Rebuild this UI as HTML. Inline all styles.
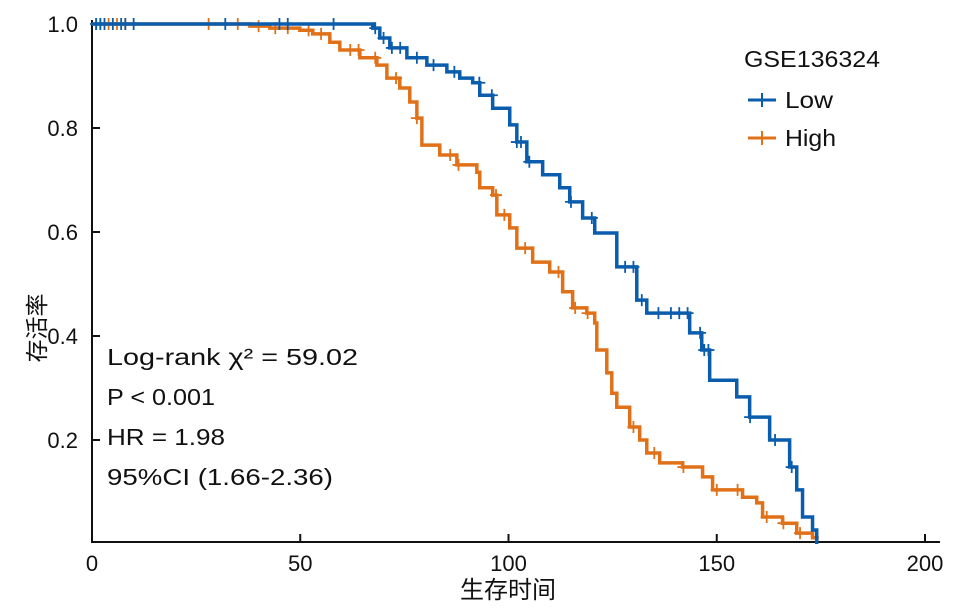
<!DOCTYPE html>
<html><head><meta charset="utf-8"><style>
html,body{margin:0;padding:0;background:#fff;}
svg{display:block;font-family:"Liberation Sans","Noto Sans CJK SC",sans-serif;}
</style></head><body>
<svg id="chart" width="957" height="609" viewBox="0 0 957 609" xmlns="http://www.w3.org/2000/svg">
<g id="axes"></g>
<g id="series"></g>
<g font-size="23" fill="#111">
<text x="107" y="365" textLength="251" lengthAdjust="spacingAndGlyphs">Log-rank  χ² = 59.02</text>
<text x="107" y="405" textLength="108" lengthAdjust="spacingAndGlyphs">P &lt; 0.001</text>
<text x="107" y="445" textLength="118" lengthAdjust="spacingAndGlyphs">HR = 1.98</text>
<text x="107" y="485" textLength="226" lengthAdjust="spacingAndGlyphs">95%CI (1.66-2.36)</text>
</g>
<g font-size="23" fill="#111">
<text x="744" y="67" textLength="136" lengthAdjust="spacingAndGlyphs">GSE136324</text>
<g>
<line x1="748" y1="100" x2="776" y2="100" stroke="#0a5cad" stroke-width="3"/>
<path d="M762 93V107M755 100H769" stroke="#0a5cad" stroke-width="2"/>
<text x="785" y="108" textLength="48" lengthAdjust="spacingAndGlyphs">Low</text></g>
<g>
<line x1="748" y1="138" x2="776" y2="138" stroke="#e07118" stroke-width="3"/>
<path d="M762 131V145M755 138H769" stroke="#e07118" stroke-width="2"/>
<text x="785" y="146" textLength="51" lengthAdjust="spacingAndGlyphs">High</text></g>
</g>
<text x="508" y="598" font-size="24" text-anchor="middle" fill="#111">生存时间</text>
<text transform="translate(45,328) rotate(-90)" font-size="23" text-anchor="middle" fill="#111">存活率</text>
</svg>
<script>
const xTicks=[0,50,100,150,200];
const yTicks=[0.2,0.4,0.6,0.8,1.0];
const yTickLabels=["0.2","0.4","0.6","0.8","1.0"];
const lowTimes=[67.4,69.1,71.5,75.6,80.4,85.2,88.3,91.4,93.1,96.2,100.3,102.0,104.4,108.2,112.3,114.7,117.8,120.7,126.0,130.8,133.2,143.5,146.4,148.3,154.8,157.9,162.7,167.5,169.2,170.6,173.0,174.0];
const lowSurv=[0.992,0.973,0.954,0.935,0.921,0.908,0.896,0.887,0.863,0.838,0.806,0.773,0.735,0.710,0.685,0.658,0.627,0.598,0.533,0.469,0.444,0.406,0.373,0.315,0.283,0.244,0.200,0.148,0.104,0.052,0.027,0.0];
const lowEnd=174.0;
const lowCensor=[1,2,3,5,7,8,10,32,45,47,58,68,70,72,74,78,82,87,93,96,102,103,105,115,120,128,130,132,136,139,141,143,146,147,148,158,164,168];
const highTimes=[37.9,42.7,49.9,53.0,57.1,59.5,64.3,68.4,70.8,73.9,76.3,78.0,79.2,83.5,87.6,92.4,93.1,96.2,97.2,100.3,102.0,105.8,109.9,113.0,115.4,118.8,120.7,121.2,123.6,124.8,126.0,129.1,131.5,133.2,136.3,141.8,146.6,149.0,156.2,159.6,161.0,165.8,169.2,173.0];
const highSurv=[0.996,0.992,0.988,0.981,0.965,0.950,0.935,0.921,0.896,0.877,0.850,0.819,0.767,0.748,0.729,0.715,0.685,0.671,0.633,0.608,0.569,0.542,0.523,0.485,0.454,0.444,0.425,0.373,0.329,0.290,0.263,0.225,0.200,0.175,0.156,0.148,0.129,0.104,0.090,0.079,0.052,0.040,0.021,0.012];
const highEnd=174.5;
const highCensor=[1,2,4,6,8,28,35,40,44,47,52,55,62,64,68,73,78,86,88,97,99,104,112,116,119,130,135,142,150,155,162,166,170];

const NS="http://www.w3.org/2000/svg";
const X=t=>92+t*(925-92)/200;
const Y=s=>544-s*520;
function mk(tag,attrs,parent){const e=document.createElementNS(NS,tag);for(const k in attrs)e.setAttribute(k,attrs[k]);parent.appendChild(e);return e;}
const axes=document.getElementById('axes');
const ax=mk('path',{d:`M92 20V542H940`,stroke:'#111','stroke-width':2,fill:'none'},axes);


xTicks.forEach(v=>{
 const t=mk('line',{x1:X(v),x2:X(v),y1:542,y2:534,stroke:'#111','stroke-width':2},axes);
 
 
 const l=mk('text',{x:X(v),y:571,'font-size':22,'text-anchor':'middle',fill:'#111'},axes);
 l.textContent=v;
 
 
});
yTicks.forEach((v,i)=>{
 const t=mk('line',{x1:92,x2:100,y1:Y(v),y2:Y(v),stroke:'#111','stroke-width':2},axes);
 
 
 const l=mk('text',{x:78,y:Y(v)+8,'font-size':22,'text-anchor':'end',fill:'#111'},axes);
 l.textContent=yTickLabels[i];
 
 
});
function survAt(times,surv,t){let s=1;for(let i=0;i<times.length;i++){if(times[i]<=t)s=surv[i];else break;}return s;}
function drawSeries(times,surv,end,cens,color,name){
 const g=document.getElementById('series');
 let d=`M${X(0)} ${Y(1)}`;
 times.forEach((t,i)=>{d+=`H${X(t)}V${Y(surv[i])}`;});
 d+=`H${X(end)}`;
 const p=mk('path',{d,stroke:color,'stroke-width':3.5,fill:'none'},g);
 
 
 cens.forEach(t=>{
  const x=X(t),y=Y(survAt(times,surv,t));
  const c=mk('path',{d:`M${x} ${y-6}V${y+6}M${x-6} ${y}H${x+6}`,stroke:color,'stroke-width':1.8},g);
  
  
 });
}
drawSeries(highTimes,highSurv,highEnd,highCensor,'#e07118','high');
drawSeries(lowTimes,lowSurv,lowEnd,lowCensor,'#0a5cad','low');
</script>
</body></html>
